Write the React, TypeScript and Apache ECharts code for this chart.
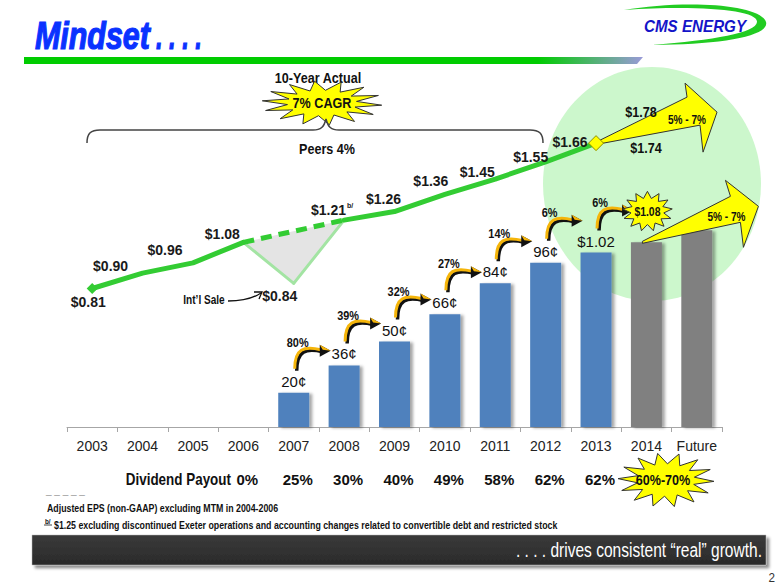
import React, { useEffect, useRef } from "react";
import * as echarts from "echarts";

// ---------- data ----------
const years = ["2003", "2004", "2005", "2006", "2007", "2008", "2009", "2010", "2011", "2012", "2013", "2014", "Future"];
const epsActual = [0.81, 0.9, 0.96, 1.08, 0.84, 1.21, 1.26, 1.36, 1.45, 1.55, 1.66, null, null];
const eps2014Guidance = [1.74, 1.78];
const dividends = [null, null, null, null, 0.2, 0.36, 0.5, 0.66, 0.84, 0.96, 1.02, 1.08, 1.15];
const dividendLabels = ["", "", "", "", "20¢", "36¢", "50¢", "66¢", "84¢", "96¢", "$1.02", "", ""];
const dividendGrowth = [null, null, null, null, "80%", "39%", "32%", "27%", "14%", "6%", "6%", null, null];
const payoutRatio = ["", "", "", "0%", "25%", "30%", "40%", "49%", "58%", "62%", "62%", "", ""];
const payoutTarget = "60%-70%";
const growthOutlook = "5% - 7%";
const forecastYears = ["2014", "Future"];
const intlSaleIndex = 4;

// ---------- layout / style ----------
const FONT = '"Liberation Sans", Arial, sans-serif';
const SX = 0.84; // horizontal squeeze to mimic a narrow face
const epsLabelOffsets = [
  [-4, 14], [-32, -7], [-28, -13], [-21, -8], [-14, 13], [-12, -10],
  [-11, -13], [-14, -13], [-18, -7], [-15, -5], [-26, -1],
];

echarts.graphic.registerShape(
  "swoosh",
  echarts.graphic.extendPath(
    "M624,10 C680,0 760,3 766,22 C770,36 722,45 652,45 C714,40 756,33 757,22 C758,10 700,5 624,10 Z",
    {}
  )
);
echarts.graphic.registerShape(
  "brace",
  echarts.graphic.extendPath(
    "M87,143 C87,133 91,130 100,130 L313,130 C321,130 324,127 326,119 C328,127 331,130 339,130 L530,130 C539,130 543,133 543,143",
    {}
  )
);

function starPoints(cx: number, cy: number, rx: number, ry: number, n: number, inner: number, rot = 0) {
  const pts: number[][] = [];
  for (let k = 0; k < 2 * n; k++) {
    const a = rot + (Math.PI * k) / n;
    const r = k % 2 === 0 ? 1 : inner;
    pts.push([cx + Math.cos(a) * rx * r, cy + Math.sin(a) * ry * r]);
  }
  return pts;
}

function gtext(text: string, x: number, y: number, size: number, opts: any = {}) {
  const { weight = "bold", color = "#111", align = "center", scale = SX, style = {}, ...rest } = opts;
  return {
    type: "text",
    x,
    y,
    scaleX: scale,
    style: {
      text,
      x: 0,
      y: 0,
      font: `${weight} ${size}px ${FONT}`,
      fill: color,
      align,
      verticalAlign: "middle",
      ...style,
    },
    ...rest,
  };
}

function epsItem(i: number, extra: any = {}) {
  const v = epsActual[i];
  const text = i === 5 ? `{a|$${(v as number).toFixed(2)}}{s|b/}` : `{a|$${(v as number).toFixed(2)}}`;
  return {
    value: v,
    label: {
      show: true,
      position: "inside",
      offset: epsLabelOffsets[i],
      formatter: () => text,
      rich: {
        a: { fontFamily: FONT, fontWeight: "bold", fontSize: 14, color: "#1a1a1a" },
        s: { fontFamily: FONT, fontWeight: "bold", fontSize: 7, color: "#1a1a1a", padding: [0, 0, 9, 1] },
      },
    },
    ...extra,
  };
}

export default function App() {
  const ref = useRef<HTMLDivElement>(null);
  useEffect(() => {
    if (!ref.current) return;
    const chart = echarts.init(ref.current, undefined, { renderer: "svg" });
    const green = "#33cc33";

    const solid1 = epsActual.map((v, i) =>
      i <= 3
        ? epsItem(i, i === 0 ? { symbol: "diamond", symbolSize: 11, itemStyle: { color: green } } : {})
        : "-"
    );
    const dashed = epsActual.map((v, i) => (i === 3 || i === 5 ? v : "-"));
    const intl = epsActual.map((v, i) =>
      i === intlSaleIndex ? epsItem(i) : i === 3 || i === 5 ? v : "-"
    );
    const solid2 = epsActual.map((v, i) =>
      i >= 5 && i <= 10
        ? epsItem(
            i,
            i === 10
              ? { symbol: "diamond", symbolSize: 15, itemStyle: { color: "#ffff00", borderColor: "#8c8c00", borderWidth: 1 } }
              : {}
          )
        : "-"
    );

    const barData = dividends.map((v, i) => ({
      value: v === null ? "-" : v,
      itemStyle: { color: forecastYears.includes(years[i]) ? "#808080" : "#4f81bd" },
    }));

    const growthData: any[] = [];
    dividendGrowth.forEach((g, i) => {
      if (g) growthData.push([i, dividends[i], i]);
    });

    const option: any = {
      animation: false,
      backgroundColor: "#ffffff",
      grid: { left: 67, right: 58, top: 85, bottom: 158 },
      xAxis: [
        {
          type: "category",
          data: years,
          axisLine: { lineStyle: { color: "#a6a6a6", width: 1 } },
          axisTick: { show: true, length: 5, lineStyle: { color: "#a6a6a6" } },
          axisLabel: { interval: 0, fontFamily: FONT, fontSize: 14, color: "#222", margin: 12 },
        },
        {
          type: "category",
          data: years,
          position: "bottom",
          offset: 33,
          axisLine: { show: false },
          axisTick: { show: false },
          axisLabel: {
            interval: 0,
            formatter: (_v: string, i: number) => payoutRatio[i],
            fontFamily: FONT,
            fontSize: 15,
            fontWeight: "bold",
            color: "#111",
            margin: 12,
            padding: [0, 0, 0, 8],
          },
        },
      ],
      yAxis: { type: "value", min: 0, max: 2, show: false },
      series: [
        {
          type: "bar",
          data: barData,
          barWidth: 31,
          z: 2,
          itemStyle: { shadowBlur: 3, shadowOffsetX: 3, shadowOffsetY: 1, shadowColor: "rgba(0,0,0,0.35)" },
          label: {
            show: true,
            position: "top",
            distance: 4,
            formatter: (p: any) => dividendLabels[p.dataIndex],
            fontFamily: FONT,
            fontSize: 15,
            color: "#111",
          },
        },
        {
          type: "custom",
          z: 1,
          data: [[intlSaleIndex, epsActual[intlSaleIndex]]],
          renderItem: (_params: any, api: any) => {
            const pts = [3, 4, 5].map((k) => api.coord([k, epsActual[k]]));
            return { type: "polygon", shape: { points: pts }, style: { fill: "#e4e4e4" } };
          },
        },
        {
          type: "line",
          data: intl,
          z: 3,
          symbol: "circle",
          symbolSize: 3,
          itemStyle: { color: "#a3e4a3" },
          lineStyle: { color: "#a3e4a3", width: 3 },
          connectNulls: false,
        },
        {
          type: "line",
          data: dashed,
          connectNulls: true,
          z: 4,
          symbol: "none",
          lineStyle: { color: green, width: 5, type: [11, 7] },
        },
        {
          type: "line",
          data: solid1,
          z: 5,
          symbol: "circle",
          symbolSize: 3,
          itemStyle: { color: green },
          lineStyle: { color: green, width: 5, cap: "round", join: "round" },
        },
        {
          type: "custom",
          z: 3,
          data: [[10, epsActual[10]]],
          renderItem: (_params: any, api: any) => {
            const [x, y] = api.coord([api.value(0), api.value(1)]);
            const rel = [[0, -1], [91, -46], [89, -60], [121, -31], [107, 9], [104, -18], [2, 1]];
            return {
              type: "group",
              children: [
                {
                  type: "polygon",
                  shape: { points: rel.map(([dx, dy]) => [x + dx, y + dy]) },
                  style: { fill: "#ffff00", stroke: "#333", lineWidth: 1 },
                },
                gtext(`$${eps2014Guidance[1].toFixed(2)}`, x + 45, y - 32, 15),
                gtext(`$${eps2014Guidance[0].toFixed(2)}`, x + 50, y + 4, 15),
                gtext(growthOutlook, x + 91, y - 23, 12),
              ],
            };
          },
        },
        {
          type: "line",
          data: solid2,
          z: 5,
          symbol: "circle",
          symbolSize: 3,
          itemStyle: { color: green },
          lineStyle: { color: green, width: 5, cap: "round", join: "round" },
        },
        {
          type: "custom",
          z: 4,
          data: growthData,
          renderItem: (_params: any, api: any) => {
            const i = api.value(0);
            const [x, y] = api.coord([i, api.value(1)]);
            const sx = x + 1, sy = y - 24;
            const ex = x + 27, ey = y - 43;
            const curve = (ox: number, oy: number, color: string, w: number) => ({
              type: "bezierCurve",
              shape: {
                x1: sx + ox, y1: sy + oy,
                cpx1: sx + ox, cpy1: y - 44 + oy,
                cpx2: x + 10 + ox, cpy2: y - 47 + oy,
                x2: ex + ox, y2: ey + oy,
              },
              style: { stroke: color, lineWidth: w, fill: null },
            });
            return {
              type: "group",
              children: [
                curve(2, 2, "#111", 3.5),
                curve(0, 0, "#f5b50a", 3),
                {
                  type: "polygon",
                  shape: { points: [[ex - 1, ey - 5], [ex + 10, ey + 1], [ex - 1, ey + 7]] },
                  style: { fill: "#111" },
                },
                {
                  type: "polygon",
                  shape: { points: [[ex - 1, ey - 5], [ex + 10, ey + 1], [ex + 2, ey + 0]] },
                  style: { fill: "#f5b50a" },
                },
                gtext(dividendGrowth[i] as string, x + 4, y - 50, 13),
              ],
            };
          },
        },
        {
          type: "custom",
          z: 4,
          data: [[11, dividends[11]]],
          renderItem: (_params: any, api: any) => {
            const [x, y] = api.coord([api.value(0), api.value(1)]);
            const rel = [[-4, -1], [84, -46], [79, -62], [112, -36], [97, 5], [94, -20], [-4, 1]];
            const cy = y - 31;
            return {
              type: "group",
              children: [
                {
                  type: "polygon",
                  shape: { points: rel.map(([dx, dy]) => [x + dx, y + dy]) },
                  style: { fill: "#ffff00", stroke: "#333", lineWidth: 1 },
                },
                gtext(growthOutlook, x + 80, y - 26, 12),
                {
                  type: "polygon",
                  shape: { points: starPoints(x + 1, cy, 25, 20, 13, 0.66, -Math.PI / 2) },
                  style: { fill: "#ffff00", stroke: "#333", lineWidth: 1 },
                },
                gtext(`$${(api.value(1) as number).toFixed(2)}`, x + 1, cy, 13, { scale: 0.8 }),
              ],
            };
          },
        },
      ],
      graphic: [
        // soft green circle behind the outlook
        { type: "ellipse", z: -1, shape: { cx: 652, cy: 184, rx: 109, ry: 117 }, style: { fill: "#ccf7cc" } },
        // title
        {
          type: "text",
          x: 35,
          y: 36,
          scaleX: 0.8,
          style: {
            text: "Mindset",
            x: 0,
            y: 0,
            font: `italic bold 38px ${FONT}`,
            fill: "#0a32ff",
            stroke: "#0a32ff",
            lineWidth: 1.2,
            verticalAlign: "middle",
          },
        },
        {
          type: "text",
          x: 156,
          y: 36,
          scaleX: 0.62,
          style: {
            text: ". . . .",
            x: 0,
            y: 0,
            font: `italic bold 38px ${FONT}`,
            fill: "#0a32ff",
            stroke: "#0a32ff",
            lineWidth: 1.2,
            verticalAlign: "middle",
          },
        },
        {
          type: "polygon",
          shape: { points: [[24, 57], [643, 57], [637, 64], [24, 64]] },
          style: {
            fill: new echarts.graphic.LinearGradient(0, 0, 1, 0, [
              { offset: 0, color: "#00cc00" },
              { offset: 0.83, color: "#00cc00" },
              { offset: 1, color: "#9a9ad8" },
            ]),
          },
        },
        // logo
        { type: "swoosh", style: { fill: "#22cc22" } },
        gtext("CMS ENERGY", 695, 26, 16, { color: "#1414c8", scale: 0.95, style: { font: `italic bold 16px ${FONT}` } }),
        // 10-year CAGR callout
        gtext("10-Year Actual", 318, 78, 15),
        {
          type: "polygon",
          shape: { points: starPoints(322, 103, 60, 22, 14, 0.58, 0.1) },
          style: { fill: "#ffff00", stroke: "#333", lineWidth: 1 },
        },
        gtext("7% CAGR", 322, 103, 15),
        { type: "brace", style: { stroke: "#444", lineWidth: 1.5, fill: null } },
        gtext("Peers 4%", 327, 149, 15),
        // Int'l sale note
        gtext("Int\u2019l Sale", 204, 300, 12),
        {
          type: "bezierCurve",
          shape: { x1: 228, y1: 301, cpx1: 240, cpy1: 301, cpx2: 252, cpy2: 299, x2: 261, y2: 293 },
          style: { stroke: "#111", lineWidth: 1.3, fill: null },
        },
        { type: "polyline", shape: { points: [[254, 292], [262, 292], [259, 299]] }, style: { stroke: "#111", lineWidth: 1.3, fill: null } },
        // dividend payout row
        gtext("Dividend Payout", 231, 480, 16, { align: "right" }),
        {
          type: "polygon",
          shape: { points: starPoints(666, 480, 48, 27, 14, 0.6, 0.05) },
          style: { fill: "#ffff00", stroke: "#333", lineWidth: 1 },
        },
        gtext(payoutTarget, 663, 480, 15),
        // footnotes
        { type: "text", style: { text: "_ _ _ _ _", x: 46, y: 490, font: `10px ${FONT}`, fill: "#999", verticalAlign: "middle" } },
        gtext("Adjusted EPS (non-GAAP) excluding MTM in 2004-2006", 47, 508, 11, { align: "left", scale: 0.8 }),
        gtext("b/", 45, 521, 7, { align: "left", scale: 0.9 }),
        { type: "line", shape: { x1: 44, y1: 525, x2: 52, y2: 525 }, style: { stroke: "#111", lineWidth: 0.8 } },
        gtext(
          "$1.25 excluding discontinued Exeter operations and accounting changes related to convertible debt and restricted stock",
          54, 525, 11, { align: "left", scale: 0.8 }
        ),
        // banner
        {
          type: "rect",
          shape: { x: 32, y: 535, width: 734, height: 30 },
          style: {
            fill: new echarts.graphic.LinearGradient(0, 0, 0, 1, [
              { offset: 0, color: "#3a3a3a" },
              { offset: 1, color: "#2a2a2a" },
            ]),
            stroke: "#bbb",
            lineWidth: 0.5,
            shadowBlur: 3,
            shadowOffsetX: 3,
            shadowOffsetY: 3,
            shadowColor: "rgba(0,0,0,0.45)",
          },
        },
        gtext(". . . . drives consistent \u201creal\u201d growth.", 762, 550, 21, {
          weight: "normal",
          color: "#ffffff",
          align: "right",
          scale: 0.74,
        }),
        gtext("2", 775, 578, 13, { weight: "normal", color: "#333", align: "right", scale: 0.9 }),
      ],
    };

    chart.setOption(option);
    return () => chart.dispose();
  }, []);

  return (
    <div
      ref={ref}
      style={{ position: "absolute", left: 0, top: 0, width: 780, height: 585, background: "#fff" }}
    />
  );
}
